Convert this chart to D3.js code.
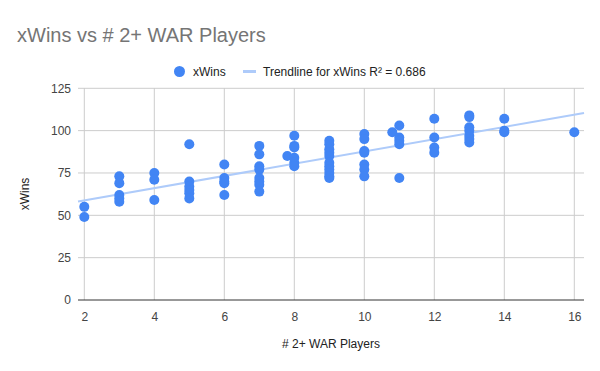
<!DOCTYPE html>
<html>
<head>
<meta charset="utf-8">
<script src="https://cdn.jsdelivr.net/npm/d3@7"></script>
<style>
  html, body { margin: 0; padding: 0; background: #fff; }
  svg { display: block; font-family: Arial, "Liberation Sans", sans-serif; }
</style>
</head>
<body>
<div id="chart"></div>
<script>
// data: # of 2+ WAR players per team vs expected wins
const players = [
  2, 2,
  3, 3, 3, 3, 3,
  4, 4, 4,
  5, 5, 5, 5, 5, 5,
  6, 6, 6, 6, 6,
  7, 7, 7, 7, 7, 7, 7, 7,
  7.8,
  8, 8, 8, 8, 8, 8,
  9, 9, 9, 9, 9, 9, 9, 9, 9, 9, 9,
  10, 10, 10, 10, 10, 10, 10,
  10.8,
  11, 11, 11, 11, 11,
  12, 12, 12, 12,
  13, 13, 13, 13, 13, 13, 13,
  14, 14, 14,
  16
];
const xWins = [
  55, 49,
  73, 69, 62, 60, 58,
  75, 71, 59,
  92, 70, 67, 65, 63, 60,
  80, 72, 70, 69, 62,
  91, 86, 79, 77, 72, 70, 68, 64,
  85,
  97, 91, 90, 84, 81, 79,
  94, 92, 89, 87, 85, 81, 79, 77, 75, 73, 72,
  98, 95, 88, 87, 80, 77, 73,
  99,
  103, 96, 94, 92, 72,
  107, 96, 90, 87,
  109, 108, 102, 100, 97, 95, 93,
  107, 100, 99,
  99
];
const xTicks = [2, 4, 6, 8, 10, 12, 14, 16];
const yTicks = [0, 25, 50, 75, 100, 125];

const title = 'xWins vs # 2+ WAR Players';
const seriesName = 'xWins';
const trendLabel = 'Trendline for xWins R² = 0.686';
const xTitle = '# 2+ WAR Players';
const yTitle = 'xWins';

const width = 600;
const height = 371;
const area = {left: 78, right: 584, top: 88, bottom: 300};
const blue = '#4285f4';
const trendColor = '#aecbfa';

const points = players.map((p, i) => ({x: p, y: xWins[i]}));

const x = d3.scaleLinear().domain([2, 16]).range([84.3, 574.3]);
const y = d3.scaleLinear().domain([0, 125]).range([area.bottom, 88.3]);

// least squares fit
const mx = d3.mean(players);
const my = d3.mean(xWins);
const slope = d3.sum(points, (d) => (d.x - mx) * (d.y - my)) /
    d3.sum(points, (d) => (d.x - mx) * (d.x - mx));
const intercept = my - slope * mx;

const svg = d3.select('#chart').append('svg')
    .attr('width', width)
    .attr('height', height);

svg.append('text')
    .attr('x', 17)
    .attr('y', 42)
    .attr('fill', '#757575')
    .attr('font-size', 20)
    .text(title);

// legend
const legend = svg.append('g').attr('font-size', 12).attr('fill', '#222');
legend.append('circle')
    .attr('cx', 179.5).attr('cy', 71.5).attr('r', 5.5).attr('fill', blue);
legend.append('text').attr('x', 193).attr('y', 75.5).text(seriesName);
legend.append('rect')
    .attr('x', 243).attr('y', 70).attr('width', 13).attr('height', 3)
    .attr('fill', trendColor);
legend.append('text').attr('x', 263).attr('y', 75.5).text(trendLabel);

// gridlines
svg.append('g')
    .selectAll('line')
    .data(xTicks)
    .join('line')
    .attr('x1', (d) => x(d)).attr('x2', (d) => x(d))
    .attr('y1', area.top).attr('y2', area.bottom)
    .attr('stroke', '#cccccc');

svg.append('g')
    .selectAll('line')
    .data(yTicks.filter((d) => d !== 0))
    .join('line')
    .attr('x1', area.left).attr('x2', area.right)
    .attr('y1', (d) => y(d)).attr('y2', (d) => y(d))
    .attr('stroke', '#cccccc');

// axes labels
const xAxis = svg.append('g')
    .attr('transform', `translate(0,${area.bottom})`)
    .call(d3.axisBottom(x).tickValues(xTicks).tickSize(0).tickPadding(12));
xAxis.select('.domain').remove();
xAxis.selectAll('text')
    .attr('font-size', 12).attr('fill', '#444')
    .attr('font-family', 'Arial, "Liberation Sans", sans-serif');

const yAxis = svg.append('g')
    .attr('transform', `translate(${area.left - 7},0)`)
    .call(d3.axisLeft(y).tickValues(yTicks).tickSize(0).tickPadding(0));
yAxis.select('.domain').remove();
yAxis.selectAll('text')
    .attr('font-size', 12).attr('fill', '#444')
    .attr('font-family', 'Arial, "Liberation Sans", sans-serif');

// baseline
svg.append('line')
    .attr('x1', area.left).attr('x2', area.right)
    .attr('y1', y(0)).attr('y2', y(0))
    .attr('stroke', '#333').attr('stroke-width', 1);

// trendline
const x0 = x.invert(area.left);
const x1 = x.invert(area.right);
svg.append('line')
    .attr('x1', x(x0)).attr('y1', y(intercept + slope * x0))
    .attr('x2', x(x1)).attr('y2', y(intercept + slope * x1))
    .attr('stroke', trendColor).attr('stroke-width', 2);

// points
svg.append('g')
    .selectAll('circle')
    .data(points)
    .join('circle')
    .attr('cx', (d) => x(d.x))
    .attr('cy', (d) => y(d.y))
    .attr('r', 5)
    .attr('fill', blue);

svg.append('text')
    .attr('x', (area.left + area.right) / 2)
    .attr('y', 348)
    .attr('text-anchor', 'middle')
    .attr('font-size', 12).attr('fill', '#222')
    .text(xTitle);

svg.append('text')
    .attr('transform', `translate(29,194) rotate(-90)`)
    .attr('text-anchor', 'middle')
    .attr('font-size', 12).attr('fill', '#222')
    .text(yTitle);
</script>
</body>
</html>
